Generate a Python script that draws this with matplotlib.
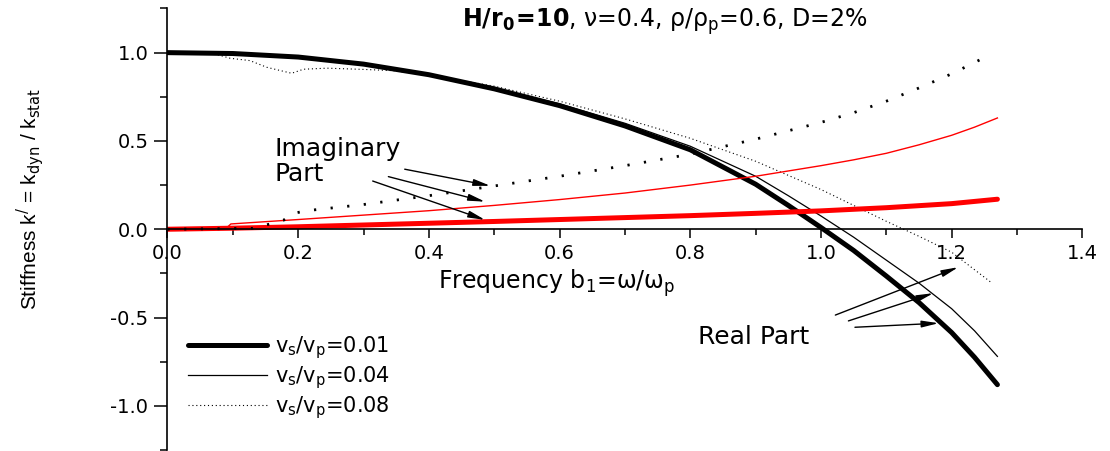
import numpy as np
import matplotlib.pyplot as plt
from matplotlib.ticker import MultipleLocator, FormatStrFormatter

plt.rcParams['font.family'] = 'DejaVu Sans'
plt.rcParams['mathtext.fontset'] = 'dejavusans'
plt.rcParams['axes.unicode_minus'] = False

# real part of k' for vs/vp = 0.01, 0.04, 0.08
b_re_01 = [0, 0.1, 0.2, 0.3, 0.4, 0.5, 0.6, 0.7, 0.8, 0.9, 0.95, 1.0, 1.05, 1.1, 1.15, 1.2, 1.235, 1.27]
k_re_01 = [1.0, 0.995, 0.975, 0.935, 0.875, 0.795, 0.70, 0.585, 0.45, 0.255, 0.135, 0.01, -0.12, -0.265, -0.415, -0.585, -0.725, -0.88]

b_re_04 = [0, 0.1, 0.2, 0.3, 0.4, 0.5, 0.6, 0.7, 0.8, 0.9, 0.95, 1.0, 1.05, 1.1, 1.15, 1.2, 1.235, 1.27]
k_re_04 = [1.0, 0.993, 0.975, 0.937, 0.877, 0.80, 0.71, 0.60, 0.47, 0.30, 0.19, 0.075, -0.045, -0.175, -0.305, -0.45, -0.575, -0.72]

b_re_08 = [0, 0.05, 0.075, 0.096, 0.126, 0.152, 0.19, 0.208, 0.244, 0.3, 0.345, 0.4, 0.5, 0.6, 0.7, 0.8, 0.9, 1.0, 1.1, 1.15, 1.2, 1.26]
k_re_08 = [1.0, 0.997, 0.99, 0.968, 0.955, 0.917, 0.883, 0.906, 0.912, 0.905, 0.898, 0.874, 0.81, 0.725, 0.625, 0.515, 0.385, 0.225, 0.045, -0.04, -0.13, -0.30]

# imaginary part
b_im_01 = [0, 0.1, 0.2, 0.3, 0.4, 0.5, 0.6, 0.7, 0.8, 0.9, 1.0, 1.1, 1.2, 1.27]
k_im_01 = [0.0, 0.006, 0.014, 0.024, 0.034, 0.044, 0.055, 0.066, 0.077, 0.09, 0.104, 0.122, 0.145, 0.17]

b_im_04 = [0, 0.09, 0.097, 0.2, 0.3, 0.4, 0.5, 0.6, 0.7, 0.8, 0.9, 1.0, 1.05, 1.1, 1.15, 1.2, 1.235, 1.27]
k_im_04 = [0.0, 0.006, 0.03, 0.055, 0.08, 0.105, 0.135, 0.168, 0.205, 0.25, 0.30, 0.36, 0.393, 0.43, 0.478, 0.532, 0.578, 0.63]

b_im_08 = [0, 0.13, 0.157, 0.177, 0.193, 0.213, 0.3, 0.4, 0.5, 0.6, 0.7, 0.8, 0.9, 1.0, 1.05, 1.1, 1.15, 1.2, 1.26]
k_im_08 = [0.0, 0.005, 0.03, 0.05, 0.09, 0.105, 0.14, 0.19, 0.245, 0.30, 0.36, 0.425, 0.51, 0.605, 0.66, 0.725, 0.80, 0.88, 0.99]

labels = [r'v$_\mathrm{s}$/v$_\mathrm{p}$=0.01',
          r'v$_\mathrm{s}$/v$_\mathrm{p}$=0.04',
          r'v$_\mathrm{s}$/v$_\mathrm{p}$=0.08']

fig = plt.figure(figsize=(11.1, 4.51), dpi=100)
ax = fig.add_axes([0.1509, 0.0022, 0.8242, 0.979])

l1, = ax.plot(b_re_01, k_re_01, color='k', lw=3.6, solid_capstyle='round', label=labels[0])
l2, = ax.plot(b_re_04, k_re_04, color='k', lw=0.9, label=labels[1])
l3, = ax.plot(b_re_08, k_re_08, color='k', lw=0.8, ls=(0, (1, 2.5)), label=labels[2])

ax.plot(b_im_01, k_im_01, color='red', lw=3.6, solid_capstyle='round')
ax.plot(b_im_04, k_im_04, color='red', lw=1.0)
ax.plot(b_im_08, k_im_08, color='k', lw=2.0, ls=(0, (0.8, 5.2)))

ax.set_xlim(0, 1.4)
ax.set_ylim(-1.25, 1.25)
for s in ['top', 'right']:
    ax.spines[s].set_visible(False)
ax.spines['bottom'].set_position(('data', 0))
ax.spines['left'].set_linewidth(1.2)
ax.spines['bottom'].set_linewidth(1.2)

ax.xaxis.set_major_locator(MultipleLocator(0.2))
ax.xaxis.set_minor_locator(MultipleLocator(0.1))
ax.yaxis.set_major_locator(MultipleLocator(0.5))
ax.yaxis.set_minor_locator(MultipleLocator(0.25))
ax.xaxis.set_major_formatter(FormatStrFormatter('%.1f'))
ax.yaxis.set_major_formatter(FormatStrFormatter('%.1f'))
ax.tick_params(axis='y', which='major', direction='out', length=9.7, width=1.1, pad=4, labelsize=14)
ax.tick_params(axis='y', which='minor', direction='out', length=5, width=1.1)
ax.tick_params(axis='x', which='major', direction='out', length=6.5, width=1.1, pad=4, labelsize=14)
ax.tick_params(axis='x', which='minor', direction='out', length=4.3, width=1.1)

ax.text(0.596, -0.335, r'Frequency b$_\mathrm{1}$=$\mathrm{\omega}$/$\mathrm{\omega_p}$',
        fontsize=17, ha='center', va='baseline')
ax.set_ylabel(r"Stiffness k$^{/}$ = k$_\mathrm{dyn}$ / k$_\mathrm{stat}$",
              family='Liberation Sans', fontsize=15, va='center')
ax.yaxis.set_label_coords(-0.150, 0.568)

ax.text(0.761, 1.146, r'$\mathbf{H/r_0\!=\!10}$, $\mathrm{\nu}$=0.4, $\mathrm{\rho/\rho_p}$=0.6, D=2%',
        fontsize=17, ha='center', va='baseline')

ax.text(0.163, 0.52, 'Imaginary\nPart', fontsize=18, ha='left', va='top', linespacing=1.05)
ax.text(0.812, -0.65, 'Real Part', fontsize=18, ha='left', va='baseline')

arrow = dict(arrowstyle='-|>,head_length=1.0,head_width=0.2', color='k', lw=1.0,
             shrinkA=0, shrinkB=0, mutation_scale=10)
imag_arrows = [((0.363, 0.34), (0.494, 0.246)),
               ((0.338, 0.298), (0.486, 0.156)),
               ((0.314, 0.273), (0.486, 0.053))]
real_arrows = [((1.022, -0.486), (1.21, -0.215)),
               ((1.042, -0.519), (1.172, -0.362)),
               ((1.052, -0.555), (1.18, -0.532))]
for start, end in imag_arrows + real_arrows:
    ax.annotate('', xy=end, xytext=start, arrowprops=arrow)

ax.legend(handles=[l1, l2, l3], loc='upper left', bbox_to_anchor=(0.022, 0.262),
          frameon=False, fontsize=15, handlelength=3.8, handletextpad=0.4,
          labelspacing=0.15, borderpad=0, borderaxespad=0)

fig.savefig('out.png', dpi=100)
